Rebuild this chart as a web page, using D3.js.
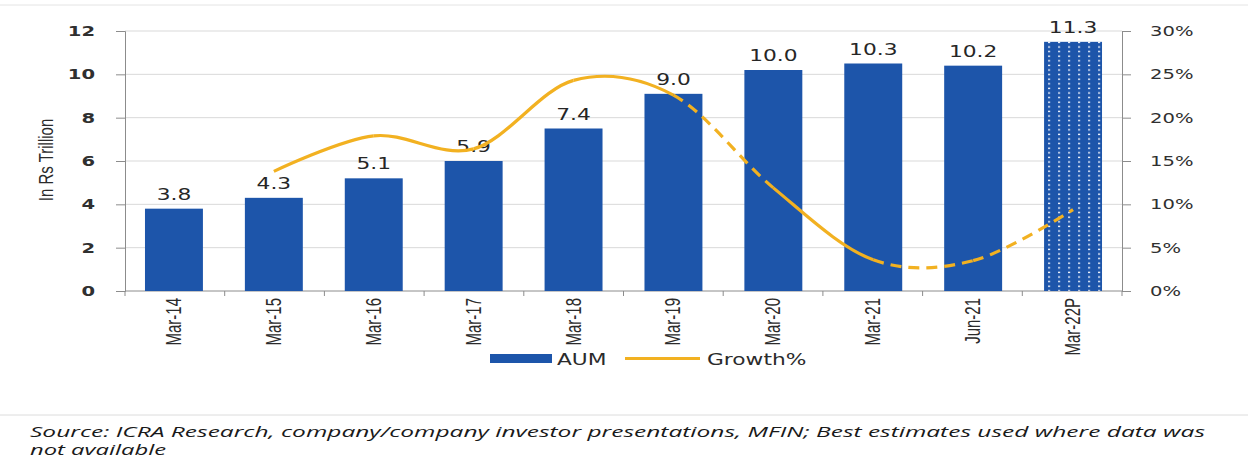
<!DOCTYPE html>
<html>
<head>
<meta charset="utf-8">
<script src="https://cdn.jsdelivr.net/npm/d3@7"></script>
<style>
  body { margin: 0; background: #fff; }
  svg { display: block; }
</style>
</head>
<body>
<div id="chart"></div>
<script>
// data
const categories = ["Mar-14", "Mar-15", "Mar-16", "Mar-17", "Mar-18", "Mar-19", "Mar-20", "Mar-21", "Jun-21", "Mar-22P"];
const aum = [3.8, 4.3, 5.1, 5.9, 7.4, 9.0, 10.0, 10.3, 10.2, 11.3];
const aumShown = [3.8, 4.3, 5.2, 6.0, 7.5, 9.1, 10.2, 10.5, 10.4, 11.5];
const growth = [null, 13.8, 17.9, 16.4, 24.3, 22.6, 11.9, 3.6, 3.5, 9.4];
const dashedSeg = [false, false, false, false, true, false, true, true];
const leftTicks = [0, 2, 4, 6, 8, 10, 12];
const rightTicks = [0, 5, 10, 15, 20, 25, 30];

const W = 1248, H = 460;
const margin = { LEFT: 125, RIGHT: 126, TOP: 31, BOTTOM: 169 };
const width = W - margin.LEFT - margin.RIGHT;
const height = H - margin.TOP - margin.BOTTOM;
const SX = 1.45; // the source image is stretched sideways
const blue = "#1d55aa", gold = "#f2b121", ink = "#2b2b2b";

const svg = d3.select("#chart").append("svg")
    .attr("width", W)
    .attr("height", H);

// dotted fill for the projected bar
const defs = svg.append("defs");
const pat = defs.append("pattern")
    .attr("id", "dots")
    .attr("patternUnits", "userSpaceOnUse")
    .attr("width", 10)
    .attr("height", 4.6);
pat.append("rect").attr("width", 10).attr("height", 4.6).attr("fill", blue);
pat.append("rect").attr("x", 3).attr("y", 1.5).attr("width", 2.2).attr("height", 1.4).attr("fill", "#e8eefa");

// frame lines top and above the source
svg.append("line").attr("x1", 0).attr("x2", W).attr("y1", 5).attr("y2", 5)
    .attr("stroke", "#e4e4e4").attr("stroke-width", 1);
svg.append("line").attr("x1", 0).attr("x2", W).attr("y1", 415).attr("y2", 415)
    .attr("stroke", "#dcdcdc").attr("stroke-width", 1);

const g = svg.append("g")
    .attr("transform", `translate(${margin.LEFT}, ${margin.TOP})`);

const x = d3.scaleBand()
    .domain(categories)
    .range([0, width])
    .paddingInner(0.42)
    .paddingOuter(0.2);

const y = d3.scaleLinear().domain([0, 12]).range([height, 0]);
const y2 = d3.scaleLinear().domain([0, 30]).range([height, 0]);

function stretched(sel, px, py, sx) {
    return sel.attr("transform", `translate(${px},${py}) scale(${sx},1)`);
}

// gridlines
g.selectAll(".grid")
    .data(leftTicks.filter(d => d > 0))
    .enter().append("line")
    .attr("x1", 0).attr("x2", width)
    .attr("y1", d => y(d)).attr("y2", d => y(d))
    .attr("stroke", "#d9d9d9").attr("stroke-width", 1);

// left axis
const yAxis = g.append("g").call(d3.axisLeft(y).tickValues(leftTicks).tickSize(9).tickFormat(""));
yAxis.selectAll("line, path").attr("stroke", "#8c8c8c");
g.selectAll(".ylab")
    .data(leftTicks)
    .enter().append("text")
    .attr("class", "ylab")
    .call(s => s.attr("transform", d => `translate(-30,${y(d) + 5}) scale(${SX},1)`))
    .attr("text-anchor", "end")
    .attr("font-family", "DejaVu Sans")
    .attr("font-size", 13.5)
    .attr("font-weight", "bold")
    .attr("fill", "#303030")
    .text(d => d);

// right axis
const yAxisR = g.append("g")
    .attr("transform", `translate(${width},0)`)
    .call(d3.axisRight(y2).tickValues(rightTicks).tickSize(9).tickFormat(""));
yAxisR.selectAll("line, path").attr("stroke", "#8c8c8c");
g.selectAll(".y2lab")
    .data(rightTicks)
    .enter().append("text")
    .attr("class", "y2lab")
    .call(s => s.attr("transform", d => `translate(${width + 28},${y2(d) + 5}) scale(${SX},1)`))
    .attr("text-anchor", "start")
    .attr("font-family", "DejaVu Sans")
    .attr("font-size", 13.5)
    .attr("fill", "#303030")
    .text(d => d + "%");

// bottom axis: ticks at band edges
const xAxisG = g.append("g").attr("transform", `translate(0,${height})`);
xAxisG.append("line").attr("x1", 0).attr("x2", width).attr("stroke", "#8c8c8c");
const edges = d3.range(categories.length + 1).map(i => i * width / categories.length);
xAxisG.selectAll(".xt")
    .data(edges)
    .enter().append("line")
    .attr("x1", d => d).attr("x2", d => d)
    .attr("y1", 0).attr("y2", 5)
    .attr("stroke", "#8c8c8c");
xAxisG.selectAll(".xlab")
    .data(categories)
    .enter().append("text")
    .attr("transform", d => `translate(${x(d) + x.bandwidth() / 2 + 7},7) rotate(-90) scale(1,1.45)`)
    .attr("text-anchor", "end")
    .attr("font-family", "Liberation Sans Narrow, Liberation Sans, sans-serif")
    .attr("font-size", 15)
    .attr("fill", ink)
    .text(d => d);

// y title
svg.append("text")
    .attr("transform", `translate(53,160) rotate(-90) scale(1,1.4)`)
    .attr("text-anchor", "middle")
    .attr("font-family", "Liberation Sans Narrow, Liberation Sans, sans-serif")
    .attr("font-size", 15)
    .attr("fill", ink)
    .text("In Rs Trillion");

// bars
g.selectAll(".bar")
    .data(categories)
    .enter().append("rect")
    .attr("x", d => x(d))
    .attr("y", (d, i) => y(aumShown[i]))
    .attr("width", x.bandwidth())
    .attr("height", (d, i) => height - y(aumShown[i]))
    .attr("fill", (d, i) => i === categories.length - 1 ? "url(#dots)" : blue);

// bar labels
g.selectAll(".blab")
    .data(categories)
    .enter().append("text")
    .call(s => s.attr("transform", (d, i) => `translate(${x(d) + x.bandwidth() / 2},${y(aumShown[i]) - 9}) scale(${SX},1)`))
    .attr("text-anchor", "middle")
    .attr("font-family", "DejaVu Sans")
    .attr("font-size", 15)
    .attr("fill", "#262626")
    .text((d, i) => aum[i].toFixed(1));

// growth line, split per segment so some can be dashed
const pts = categories.map((c, i) => ({ c, v: growth[i] })).filter(d => d.v !== null);
const line = d3.line()
    .x(d => x(d.c) + x.bandwidth() / 2)
    .y(d => y2(d.v))
    .curve(d3.curveCardinal.tension(0));
const full = line(pts);
const parts = full.split("C");
let start = parts[0].replace("M", "");
const segs = [];
for (let i = 1; i < parts.length; i++) {
    segs.push({ d: "M" + start + "C" + parts[i], dashed: dashedSeg[i - 1] });
    const nums = parts[i].split(",");
    start = nums[nums.length - 2] + "," + nums[nums.length - 1];
}
g.selectAll(".seg")
    .data(segs)
    .enter().append("path")
    .attr("d", d => d.d)
    .attr("fill", "none")
    .attr("stroke", gold)
    .attr("stroke-width", 3.2)
    .attr("stroke-dasharray", d => d.dashed ? "11,7" : null);

// legend
const leg = svg.append("g");
leg.append("rect").attr("x", 490).attr("y", 354).attr("width", 62).attr("height", 9).attr("fill", blue);
stretched(leg.append("text"), 557, 365, SX)
    .attr("font-family", "DejaVu Sans").attr("font-size", 15).attr("fill", ink).text("AUM");
leg.append("line").attr("x1", 625).attr("x2", 700).attr("y1", 358.5).attr("y2", 358.5)
    .attr("stroke", gold).attr("stroke-width", 3);
stretched(leg.append("text"), 707, 365, SX)
    .attr("font-family", "DejaVu Sans").attr("font-size", 15).attr("fill", ink).text("Growth%");

// source note
const src = svg.append("g")
    .attr("font-family", "Open Sans, sans-serif")
    .attr("font-style", "italic")
    .attr("font-size", 15)
    .attr("fill", "#1a1a1a");
src.append("text").attr("x", 30).attr("y", 437)
    .attr("textLength", 1175).attr("lengthAdjust", "spacingAndGlyphs")
    .text("Source: ICRA Research, company/company investor presentations, MFIN; Best estimates used where data was");
src.append("text").attr("x", 30).attr("y", 455)
    .attr("textLength", 136).attr("lengthAdjust", "spacingAndGlyphs")
    .text("not available");
</script>
</body>
</html>
